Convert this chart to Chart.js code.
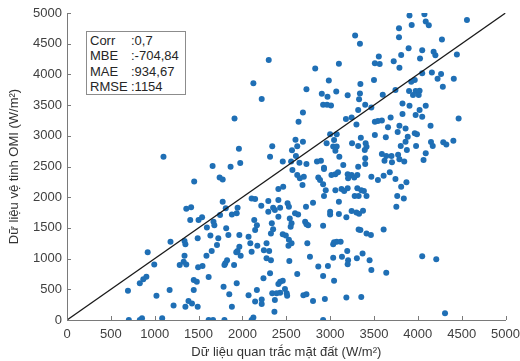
<!DOCTYPE html>
<html>
<head>
<meta charset="utf-8">
<script src="https://cdn.jsdelivr.net/npm/chart.js@4.4.0/dist/chart.umd.min.js"></script>
<style>
  html, body { margin: 0; padding: 0; background: #fff; overflow: hidden; }
  #wrap { position: relative; width: 527px; height: 361px; }
  #stats {
    position: absolute; left: 86px; top: 31px; width: 95px; height: 61px;
    border: 1px solid #8c8c8c; background: #fff;
    padding: 1px 0 0 3px;
    font: 13px "Liberation Sans", Arial, sans-serif; color: #262626; line-height: 15.4px;
  }
  #stats .lab { display: inline-block; width: 41px; }
</style>
</head>
<body>
<div id="wrap">
  <canvas id="scatterChart"></canvas>
  <div id="stats"></div>
</div>
<script>
// Dữ liệu quan trắc mặt đất (trục X)
const groundObs = [
  1100,1660,2300,2125,2220,2730,2690,2640,1910,1960,2340,2315,
  2605,2690,2625,2565,2610,2460,2555,2650,2730,1975,1865,
  3785,3785,3285,3340,3810,3555,3510,3565,3725,3790,3100,2830,
  2985,3500,3345,3070,2905,2970,3200,3340,3330,3600,3745,3825,
  2920,2965,3010,3400,3470,3320,3825,3180,3245,3690,3300,3510,
  3545,3590,3660,3790,3770,3000,3075,3045,2960,3035,3075,3060,
  3250,3320,3405,3415,3350,3510,3635,3805,3395,3105,3400,3590,
  3640,3700,3775,3620,3705,3790,2850,2895,2930,3150,3320,3400,
  3905,4075,4090,4125,3930,4560,4275,3895,4050,4180,4200,4445,
  4025,4160,4265,4225,4410,4050,3965,3925,4285,3900,3975,4020,
  3945,4010,3905,4090,4020,3975,4050,4465,4145,3860,3965,3990,
  3885,3860,4150,4170,4290,4325,4405,3980,3875,4090,3845,4065,
  1450,1360,1415,1405,1500,1540,1595,1670,1680,1180,1340,1350,
  1490,1635,920,1340,1590,1650,1330,1360,1285,995,1495,1545,
  1615,905,870,830,1445,1480,695,1170,1445,1020,1385,1425,
  1490,1215,1350,705,830,855,1085,1615,1665,
  1740,1775,2570,2625,2655,2700,2685,2410,2465,1775,2105,2145,
  2215,2295,2410,2515,2530,2350,2430,2295,2370,1945,1810,1745,
  1880,1935,2135,2165,2145,2335,2410,2540,2560,2550,2600,2635,
  2725,1815,2350,2325,1725,1840,1965,2070,2460,2495,2090,2170,
  2275,2530,2560,2525,2740,1710,1965,1945,1930,1980,2105,2245,
  2305,2275,2325,2535,1825,1805,1795,1905,2315,2240,2625,2430,
  2460,2410,1935,1785,2165,2485,2505,2510,2340,2390,2430,2695,
  1850,2070,2145,2220,2220,2370,1880,2365,1795,2125,2105,
  2930,3015,3060,3090,2865,2885,3200,3245,3275,3310,3205,3470,
  3545,3610,3680,3745,3810,2920,2950,2930,3060,3130,3160,3200,
  3310,3355,3385,3280,3325,3415,3765,3755,3840,3100,2805,3000,
  3000,3100,3185,3245,3300,3330,3375,2715,2730,2750,2920,3325,
  3345,3415,3465,3610,3045,3075,3120,3035,2770,3035,3135,3195,
  3205,3200,3305,3370,3450,2865,2975,2920,3045,3470,3640,2730,
  2805,2940,3185,3355,2920,3870,4050,4210,4310
];

// Dữ liệu vệ tinh OMI (trục Y)
const omiSat = [
  2660,2510,4235,3855,3600,3760,3380,3230,3280,2790,2830,2660,
  2935,2905,2830,2765,2670,2580,2580,2560,2540,2555,2495,
  4750,4605,4635,4500,4315,4290,4180,4170,4215,4110,4175,4095,
  3900,3910,3845,3720,3685,3635,3660,3690,3595,3670,3745,3525,
  3505,3505,3495,3505,3460,3420,3355,3275,3300,3300,3185,3230,
  3240,3250,3140,3165,3060,3025,3025,2930,2880,2825,2825,2755,
  2880,2835,2880,2820,2970,3015,2975,2835,2770,2660,2635,2705,
  2670,2670,2690,2595,2570,2620,2580,2595,2480,2525,2495,2540,
  4960,4980,4860,4800,4805,4885,4570,4425,4395,4370,4310,4325,
  4260,4030,4005,3930,3930,4020,3910,3880,3800,3730,3730,3735,
  3665,3665,3490,3490,3420,3340,3310,3280,3165,3120,3040,3025,
  2985,2905,2900,2835,2895,2860,2920,2835,2770,2715,2580,2605,
  2255,1810,1835,1630,1630,1675,1505,1600,1545,1275,1285,1235,
  1330,1375,1105,1045,1045,1125,950,905,895,905,860,880,
  700,705,665,600,650,625,475,490,490,395,310,270,
  215,235,215,0,0,30,30,0,0,
  2320,2290,2445,2360,2310,2335,2200,2135,2170,1925,1980,1970,
  1860,1940,1955,1900,1845,1830,1830,1765,1790,1830,1820,1710,
  1720,1740,1630,1545,1465,1575,1680,1655,1575,1520,1740,1720,
  1845,1495,1480,1410,1330,1385,1385,1355,1395,1375,1250,1210,
  1250,1305,1250,1210,1250,1220,1195,1125,1105,1045,1110,1135,
  1125,1005,975,960,975,925,895,895,760,680,750,625,
  640,585,600,540,490,505,435,395,435,435,445,405,
  420,405,300,335,260,325,215,135,0,40,0,
  2460,2360,2375,2405,2320,2280,2375,2360,2320,2360,2310,2335,
  2280,2350,2405,2295,2170,2210,2115,2020,2115,2135,2100,2145,
  2145,2115,2100,2020,2020,2020,2020,1845,1980,1925,1910,1765,
  1720,1725,1675,1775,1750,1730,1780,1600,1560,1545,1535,1475,
  1465,1410,1385,1475,1265,1275,1275,1235,1030,1015,1030,1125,
  975,910,1005,1085,975,870,880,715,640,815,770,420,
  310,340,365,375,0,2245,1040,990,110
];

// đường 1:1
const refLine = [0, 5000];

const axisMin = 0;
const axisMax = 5000;
const tickStep = 500;

const statLabels = ['Corr', 'MBE', 'MAE', 'RMSE'];
const statValues = ['0,7', '-704,84', '934,67', '1154'];

const xTitle = 'Dữ liệu quan trắc mặt đất (W/m²)';
const yTitle = 'Dữ liệu vệ tinh OMI (W/m²)';

// bảng chỉ số
document.getElementById('stats').innerHTML = statLabels
  .map((l, i) => `<div><span class="lab">${l}</span>:${statValues[i]}</div>`)
  .join('');

const fontFamily = '"Liberation Sans", Arial, sans-serif';

// vạch chia hướng vào trong
const inwardTicks = {
  id: 'inwardTicks',
  afterDraw(chart) {
    const { ctx, chartArea, scales } = chart;
    ctx.save();
    ctx.strokeStyle = '#7a7a7a';
    ctx.lineWidth = 1;
    ctx.beginPath();
    scales.x.ticks.forEach(t => {
      const px = Math.round(scales.x.getPixelForValue(t.value)) + 0.5;
      ctx.moveTo(px, chartArea.bottom);
      ctx.lineTo(px, chartArea.bottom - 4);
    });
    scales.y.ticks.forEach(t => {
      const py = Math.round(scales.y.getPixelForValue(t.value)) + 0.5;
      ctx.moveTo(chartArea.left, py);
      ctx.lineTo(chartArea.left + 4, py);
    });
    ctx.stroke();
    ctx.restore();
  }
};

const points = groundObs.map((x, i) => ({ x: x, y: omiSat[i] }));
const plainNumber = v => String(v);

new Chart(document.getElementById('scatterChart'), {
  type: 'scatter',
  data: {
    datasets: [
      {
        type: 'line',
        data: refLine.map(v => ({ x: v, y: v })),
        borderColor: '#1a1a1a',
        borderWidth: 1.3,
        pointRadius: 0,
        fill: false,
        tension: 0
      },
      {
        data: points,
        backgroundColor: '#1f6fb5',
        borderWidth: 0,
        pointRadius: 3
      }
    ]
  },
  options: {
    responsive: true,
    maintainAspectRatio: false,
    animation: false,
    layout: { padding: { top: 13, left: 0, right: 0, bottom: 0 } },
    plugins: {
      legend: { display: false },
      tooltip: { enabled: false }
    },
    scales: {
      x: {
        type: 'linear',
        min: axisMin,
        max: axisMax,
        afterFit: s => { s.height = 41; },
        grid: { display: true, drawOnChartArea: false, drawTicks: false },
        border: { color: '#7a7a7a', width: 1 },
        ticks: {
          stepSize: tickStep,
          padding: 7,
          color: '#404040',
          font: { family: fontFamily, size: 13 },
          maxRotation: 0,
          callback: plainNumber
        },
        title: {
          display: true,
          text: xTitle,
          color: '#333',
          padding: { top: 0, bottom: 1 },
          font: { family: fontFamily, size: 13 }
        }
      },
      y: {
        type: 'linear',
        min: axisMin,
        max: axisMax,
        afterFit: s => { s.width = 67; },
        grid: { display: true, drawOnChartArea: false, drawTicks: false },
        border: { color: '#7a7a7a', width: 1 },
        ticks: {
          stepSize: tickStep,
          padding: 5,
          color: '#404040',
          font: { family: fontFamily, size: 13 },
          callback: plainNumber
        },
        title: {
          display: true,
          text: yTitle,
          color: '#333',
          padding: { top: 7, bottom: 0 },
          font: { family: fontFamily, size: 13 }
        }
      }
    }
  },
  plugins: [inwardTicks]
});
</script>
</body>
</html>
